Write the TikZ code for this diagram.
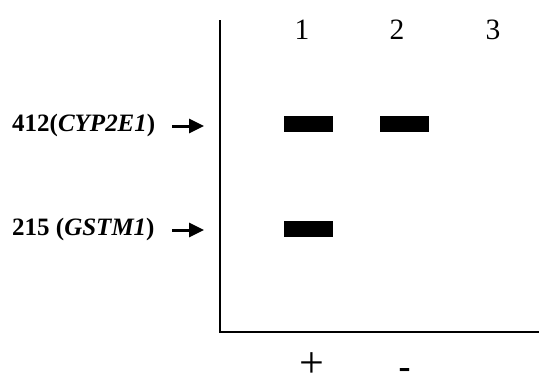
\documentclass[tikz,border=0pt]{standalone}
\usepackage{fontspec}
\setmainfont{Liberation Serif}
\usetikzlibrary{arrows.meta}
\begin{document}
\begin{tikzpicture}[x=1pt,y=-1pt,
  band/.style={fill=black,draw=none,minimum width=49pt,minimum height=16pt,inner sep=0pt},
  lane/.style={font=\fontsize{29.5}{32}\selectfont,inner sep=0pt},
  sign/.style={font=\fontsize{44}{48}\selectfont,inner sep=0pt,anchor=base,text height=0.55em,text depth=0pt},
  sizelbl/.style={font=\bfseries\fontsize{25}{28}\selectfont,inner sep=0pt,anchor=west},
  marker/.style={-{Triangle[length=15pt,width=14pt]},line width=3pt},
  axis/.style={line width=1.2pt}]
\useasboundingbox (0,0) rectangle (539,381);
\coordinate (top) at (220,20);
\coordinate (corner) at (220,332);
\coordinate (right) at (539,332);
\draw[axis] (top) -- (corner) -- (right);
\node[lane] (l1) at (302,30) {1};
\node[lane] (l2) at (397,30) {2};
\node[lane] (l3) at (493,30) {3};
\node[band] (b11) at (308.5,124) {};
\node[band] (b12) at (404.5,124) {};
\node[band] (b21) at (308.5,229) {};
\node[sizelbl] (s1) at (12,125) {412(\textit{CYP2E1})};
\node[sizelbl] (s2) at (12,229) {215 (\textit{GSTM1})};
\coordinate (a1s) at (172,126);
\coordinate (a1e) at (204,126);
\coordinate (a2s) at (172,230);
\coordinate (a2e) at (204,230);
\draw[marker] (a1s) -- (a1e);
\draw[marker] (a2s) -- (a2e);
\node[sign] (plus) at (312,377) {+};
\node[sign,font=\bfseries\fontsize{36}{40}\selectfont] (minus) at (404.5,378) {-};
\end{tikzpicture}
\end{document}
